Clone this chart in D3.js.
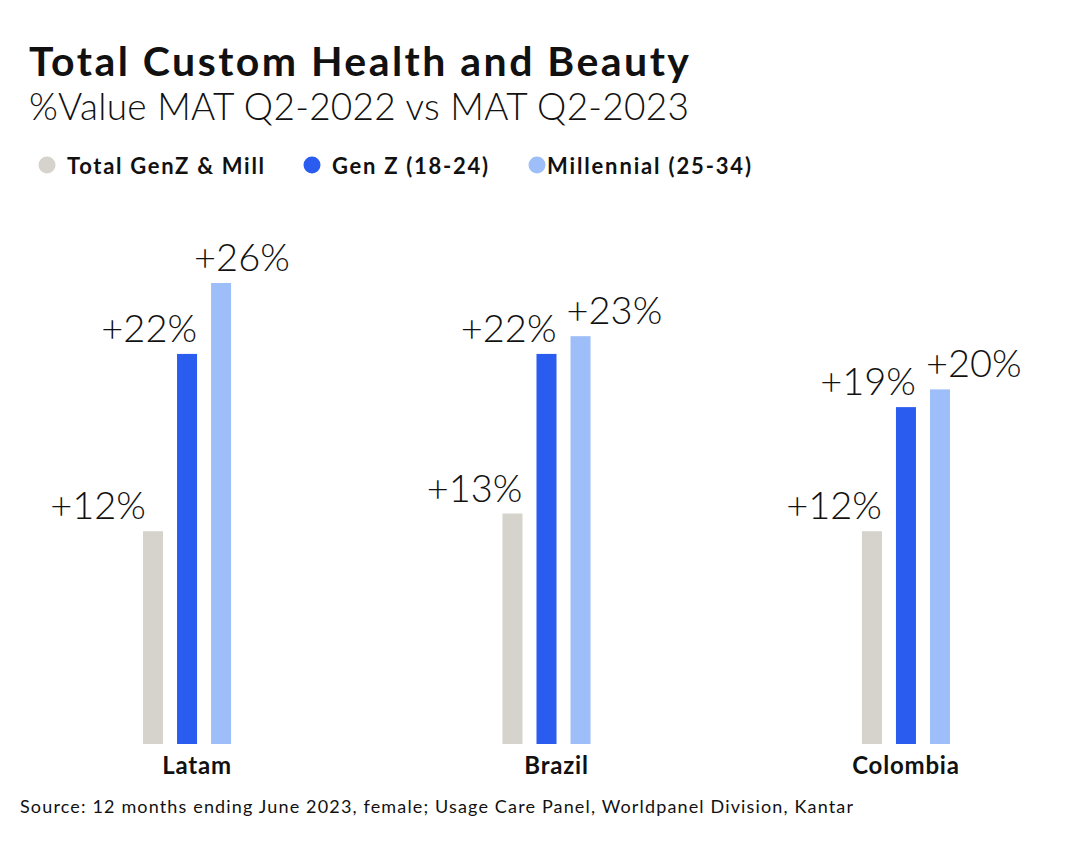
<!DOCTYPE html>
<html>
<head>
<meta charset="utf-8">
<script src="https://cdn.jsdelivr.net/npm/d3@7"></script>
<style>
  html, body { margin: 0; padding: 0; background: #fff; }
  svg { display: block; }
</style>
</head>
<body>
<svg id="chart" width="1076" height="848"></svg>
<script>
const categories = ["Latam", "Brazil", "Colombia"];
const seriesNames = ["Total GenZ & Mill", "Gen Z (18-24)", "Millennial (25-34)"];
const totalValues = [12, 13, 12];
const genZValues = [22, 22, 19];
const millennialValues = [26, 23, 20];
const valueLabels = [["+12%", "+22%", "+26%"], ["+13%", "+22%", "+23%"], ["+12%", "+19%", "+20%"]];

const colors = ["#D5D3CB", "#2B5CF0", "#9DBEF8"];
const series = [totalValues, genZValues, millennialValues];

const svg = d3.select("#chart");
const baseY = 744;

const x0 = d3.scaleBand().domain(categories).range([143, 950]).paddingInner(0.755).paddingOuter(0);
const x1 = d3.scaleBand().domain(d3.range(3)).range([0, x0.bandwidth()]).paddingInner(0.412);
const y = d3.scaleLinear().domain([0, 26]).range([baseY, 283]);

// Title
svg.append("text").attr("x", 29).attr("y", 76)
  .attr("textLength", 660).attr("lengthAdjust", "spacing")
  .style("font-family", "Lato").style("font-weight", 700).style("font-size", "41px").attr("fill", "#111")
  .text("Total Custom Health and Beauty");
svg.append("text").attr("x", 29).attr("y", 120)
  .attr("textLength", 660).attr("lengthAdjust", "spacing")
  .style("font-family", "Lato").style("font-weight", 300).style("font-size", "37px").attr("fill", "#111")
  .text("%Value MAT Q2-2022 vs MAT Q2-2023");

// Legend
const legendX = [47, 312, 537];
const legendW = [197, 156, 204];
seriesNames.forEach((name, i) => {
  svg.append("circle").attr("cx", legendX[i]).attr("cy", 165).attr("r", 8.5).attr("fill", colors[i]);
  svg.append("text").attr("x", legendX[i] + (i === 2 ? 10 : 20)).attr("y", 174)
    .attr("textLength", legendW[i]).attr("lengthAdjust", "spacing")
    .style("font-family", "Lato").style("font-weight", 700).style("font-size", "22px").attr("fill", "#111")
    .text(name);
});

// Label placement (end of gray/blue labels relative to bar right; start of light labels relative to bar left)
function labelPos(ci, si, bx, bw) {
  if (si === 0) return { x: ci === 0 ? bx + 3 : bx + bw, anchor: "end" };
  if (si === 1) return { x: bx + bw, anchor: "end" };
  return { x: ci === 0 ? bx - 17 : bx - 4, anchor: "start" };
}

// Bars
categories.forEach((cat, ci) => {
  const g = svg.append("g").attr("transform", `translate(${x0(cat)},0)`);
  series.forEach((vals, si) => {
    const bx = x1(si), bw = x1.bandwidth();
    g.append("rect").attr("x", bx).attr("y", y(vals[ci])).attr("width", bw)
      .attr("height", y(0) - y(vals[ci])).attr("fill", colors[si]);
    const p = labelPos(ci, si, bx, bw);
    g.append("text")
      .attr("x", p.x).attr("text-anchor", p.anchor)
      .attr("y", y(vals[ci]) - 12)
      .style("font-family", "Lato").style("font-weight", 300).style("font-size", "38px").attr("fill", "#111")
      .text(valueLabels[ci][si]);
  });
  svg.append("text").attr("x", x0(cat) + x0.bandwidth() / 2 + (ci === 2 ? 0 : 10)).attr("y", 774)
    .attr("text-anchor", "middle")
    .style("font-family", "Lato").style("font-weight", 700).style("font-size", "24px")
    .style("letter-spacing", "0.8px").attr("fill", "#111")
    .text(cat);
});

// Source
svg.append("text").attr("x", 20).attr("y", 813)
  .attr("textLength", 833).attr("lengthAdjust", "spacing")
  .style("font-family", "Lato").style("font-weight", 400).style("font-size", "18px").attr("fill", "#111")
  .text("Source: 12 months ending June 2023, female; Usage Care Panel, Worldpanel Division, Kantar");
</script>
</body>
</html>
